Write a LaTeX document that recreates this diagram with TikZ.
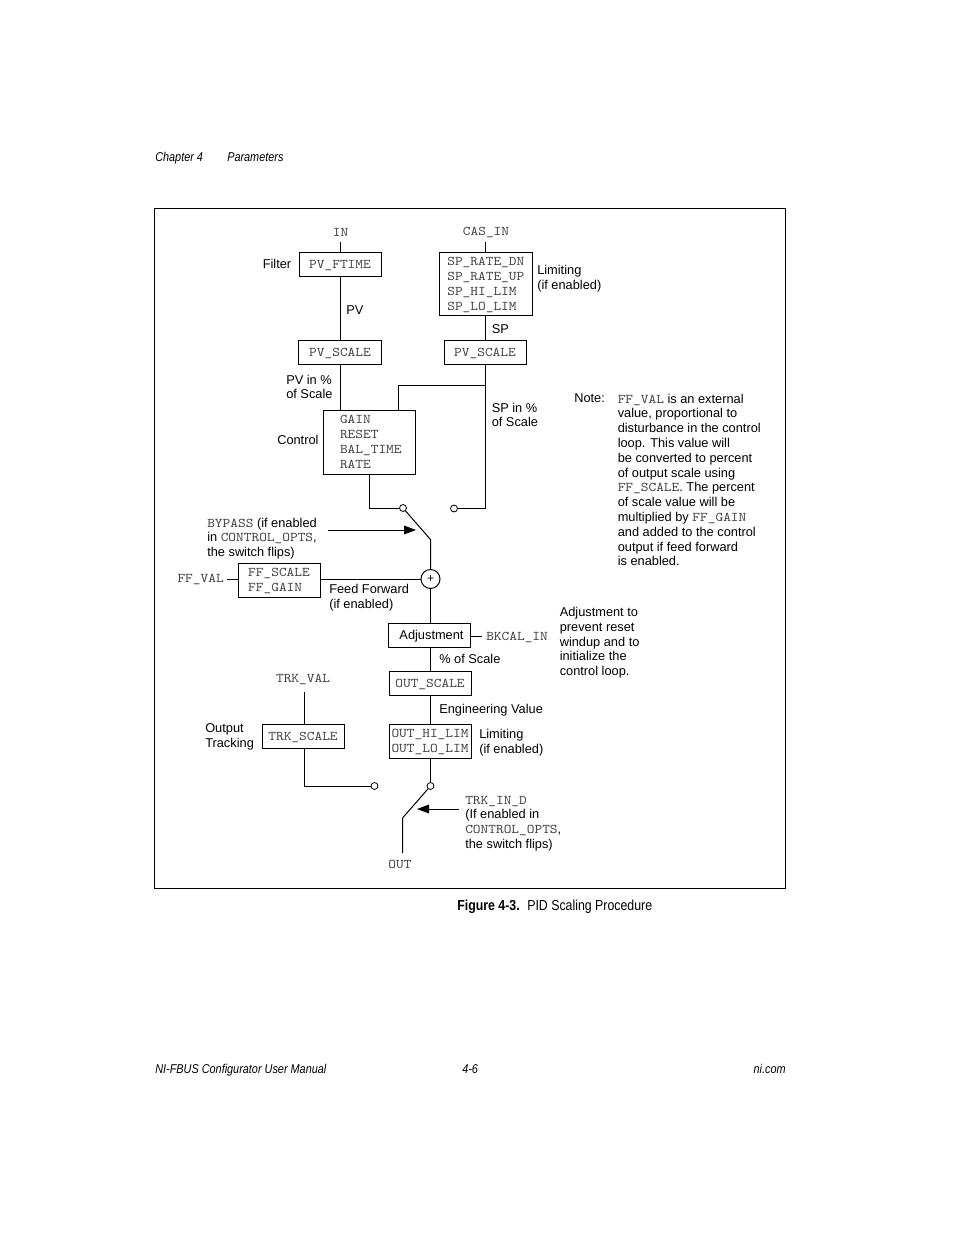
\documentclass[tikz,border=0pt]{standalone}
\usepackage{fontspec}
\setmainfont{Liberation Sans}
\setmonofont[FakeStretch=1.1]{Latin Modern Mono}
\newfontfamily\narrowfont[FakeStretch=0.85]{Liberation Sans}
\usetikzlibrary{arrows.meta}
\tikzset{
  txt/.style={inner sep=0pt,align=left,font=\fontsize{9.6}{11.1}\selectfont},
  fbox/.style={draw,line width=.7pt,inner sep=0pt,align=left,text=black!75,text height=6.6pt,text depth=0pt,font=\fontsize{10}{11.25}\selectfont\ttfamily},
  twolines/.style={text height=17.85pt},
  fourlines/.style={text height=40.35pt},
  contact/.style={draw,circle,fill=white,line width=.6pt,inner sep=0pt,minimum size=5.2pt},
  wire/.style={line width=.75pt},
  flip/.style={line width=.75pt,-{Triangle[length=9pt,width=6.5pt]}},
  page/.style={inner sep=0pt,font=\fontsize{9.6}{11}\selectfont\narrowfont\itshape}
}
\newcommand{\tm}[1]{\textcolor{black!75}{\texttt{\fontsize{10}{11.1}\selectfont #1}}}
\begin{document}
\begin{tikzpicture}[x=.75pt,y=-.75pt]
\useasboundingbox (0,0) rectangle (954,1235);
% page furniture
\node[page,anchor=base west] (chap) at (155,161.5) {Chapter 4};
\node[page,anchor=base west] (param) at (227,161.5) {Parameters};
\node[page,anchor=base west] (manual) at (155,1073.5) {NI-FBUS Configurator User Manual};
\node[page,anchor=base west] (pageno) at (462,1073.5) {4-6};
\node[page,anchor=base east] (nicom) at (786,1073.5) {ni.com};
\node[inner sep=0pt,anchor=base west,font=\fontsize{10.9}{12}\selectfont\narrowfont\bfseries] (figno) at (457,910) {Figure 4-3.};
\node[inner sep=0pt,anchor=base west,font=\fontsize{10.9}{12}\selectfont\narrowfont] (figname) at (527,910) {PID Scaling Procedure};
\node[draw,line width=.75pt,inner sep=0pt,minimum width=473.25pt,minimum height=510pt] (frame) at (469.5,548) {};

% blocks
\node[fbox,minimum width=61.5pt,minimum height=18pt] (ftime) at (340,264) {PV\_FTIME};
\node[fbox,fourlines,minimum width=70.25pt,minimum height=47.25pt] (splim) at (485.8,284) {SP\_RATE\_DN\\SP\_RATE\_UP\\SP\_HI\_LIM\\SP\_LO\_LIM};
\node[fbox,minimum width=62pt,minimum height=18pt] (pvscale) at (340,352.5) {PV\_SCALE};
\node[fbox,minimum width=61.5pt,minimum height=18pt] (spscale) at (485,352.5) {PV\_SCALE};
\node[fbox,text depth=33.75pt,text width=43.5pt,minimum width=69pt,minimum height=48pt] (ctrl) at (369,442) {GAIN\\RESET\\BAL\_TIME\\RATE};
\node[fbox,twolines,minimum width=61.5pt,minimum height=25.5pt] (ff) at (279,580) {FF\_SCALE\\FF\_GAIN};
\node[fbox,text=black,text height=6.6pt,font=\fontsize{9.6}{11}\selectfont,minimum width=61.5pt,minimum height=18pt] (adj) at (429.5,635) {\hspace*{3pt}Adjustment};
\node[fbox,minimum width=61.5pt,minimum height=18pt] (outscale) at (430,683) {OUT\_SCALE};
\node[fbox,twolines,minimum width=61.5pt,minimum height=25.5pt] (outlim) at (430,741) {OUT\_HI\_LIM\\OUT\_LO\_LIM};
\node[fbox,minimum width=61.5pt,minimum height=18pt] (trkscale) at (303,736) {TRK\_SCALE};

% switch contacts and summing point
\node[contact] (bypA) at (403,508) {};
\node[contact] (bypB) at (454,508.5) {};
\node[contact] (trkA) at (374.5,786) {};
\node[contact] (trkB) at (430.5,786) {};
\node[draw,circle,line width=.75pt,inner sep=0pt,minimum size=14.25pt,font=\fontsize{9}{9}\selectfont] (sum) at (430.5,579) {+};

% free ends and corners
\coordinate (inend) at (340,242);
\coordinate (casend) at (485.5,242);
\coordinate (spjoin) at (485.5,385);
\coordinate (spturn) at (398,385);
\coordinate (spin) at (398,410);
\coordinate (spdown) at (485.5,508.5);
\coordinate (ctrlout) at (369,474);
\coordinate (ctrlturn) at (369,508);
\coordinate (bypknee) at (430.5,539.5);
\coordinate (ffend) at (227,579);
\coordinate (bkend) at (482,636);
\coordinate (bkstart) at (470,636);
\coordinate (trktop) at (304,692);
\coordinate (trkin) at (304,724);
\coordinate (trkout) at (304,748);
\coordinate (trkturn) at (304,786);
\coordinate (outknee) at (402.5,818);
\coordinate (outend) at (402.5,853);
\coordinate (bypfrom) at (328,530);
\coordinate (bypto) at (416,530);
\coordinate (trkfrom) at (459,809);
\coordinate (trkto) at (417,809);

% connectors
\draw[wire] (inend) -- (ftime);
\draw[wire] (ftime) -- (pvscale);
\draw[wire] (pvscale.south) -- (pvscale.south |- ctrl.north);
\draw[wire] (casend) -- (casend |- splim.north);
\draw[wire] (casend |- splim.south) -- (casend |- spscale.north);
\draw[wire] (casend |- spscale.south) -- (spjoin) -- (spdown) -- (bypB);
\draw[wire] (spjoin) -- (spturn) -- (spin);
\draw[wire] (ctrlout) -- (ctrlturn) -- (bypA);
\draw[wire] (bypA) -- (bypknee) -- (sum);
\draw[wire] (ff.east |- sum) -- (sum);
\draw[wire] (ffend) -- (ff.west |- ffend);
\draw[wire] (sum) -- (sum |- adj.north);
\draw[wire] (bkstart) -- (bkend);
\draw[wire] (sum |- adj.south) -- (sum |- outscale.north);
\draw[wire] (sum |- outscale.south) -- (sum |- outlim.north);
\draw[wire] (sum |- outlim.south) -- (trkB);
\draw[wire] (trkB) -- (outknee) -- (outend);
\draw[wire] (trktop) -- (trkin);
\draw[wire] (trkout) -- (trkturn) -- (trkA);
\draw[flip] (bypfrom) -- (bypto);
\draw[flip] (trkfrom) -- (trkto);

% labels
\node[txt,anchor=center] (lin) at (340.5,232) {\tm{IN}};
\node[txt,anchor=center] (lcas) at (486,232) {\tm{CAS\_IN}};
\node[txt,anchor=west] (lfilter) at (262.5,264) {Filter};
\node[txt,anchor=west] (llimit) at (537,278.5) {Limiting\\(if enabled)};
\node[txt,anchor=west] (lpv) at (346,310) {PV};
\node[txt,anchor=west] (lsp) at (491.5,329.5) {SP};
\node[txt,anchor=west] (lpvpct) at (286,387) {PV in \%\\of Scale};
\node[txt,anchor=west] (lsppct) at (491.5,415) {SP in \%\\of Scale};
\node[txt,anchor=west] (lctrl) at (277,440) {Control};
\node[txt,anchor=west] (lbyp) at (207,538.5) {\tm{BYPASS} (if enabled\\in \tm{CONTROL\_OPTS},\\the switch flips)};
\node[txt,anchor=east] (lffval) at (224,579) {\tm{FF\_VAL}};
\node[txt,anchor=west] (lfeed) at (329,598) {Feed Forward\\(if enabled)};
\node[txt,anchor=west] (lbk) at (486,637) {\tm{BKCAL\_IN}};
\node[txt,anchor=west] (lpct) at (439,659) {\% of Scale};
\node[txt,anchor=center] (ltrkval) at (303,679.5) {\tm{TRK\_VAL}};
\node[txt,anchor=west] (leng) at (439,710) {Engineering Value};
\node[txt,anchor=west] (loutput) at (205,737) {Output\\Tracking};
\node[txt,anchor=west] (lolim) at (479,743) {Limiting\\(if enabled)};
\node[txt,anchor=west] (ltrkin) at (465,823.5) {\tm{TRK\_IN\_D}\\(If enabled in\\\tm{CONTROL\_OPTS},\\the switch flips)};
\node[txt,anchor=center] (lout) at (400,864.5) {\tm{OUT}};
\node[txt,anchor=west] (lnote) at (574,398.5) {Note:};
\node[txt,anchor=north west] (note) at (617.5,393.5) {\tm{FF\_VAL} is an external\\value, proportional to\\disturbance in the control\\loop. This value will\\be converted to percent\\of output scale using\\\tm{FF\_SCALE}. The percent\\of scale value will be\\multiplied by \tm{FF\_GAIN}\\and added to the control\\output if feed forward\\is enabled.};
\node[txt,anchor=north west] (ladj) at (559.5,607) {Adjustment to\\prevent reset\\windup and to\\initialize the\\control loop.};
\end{tikzpicture}
\end{document}
